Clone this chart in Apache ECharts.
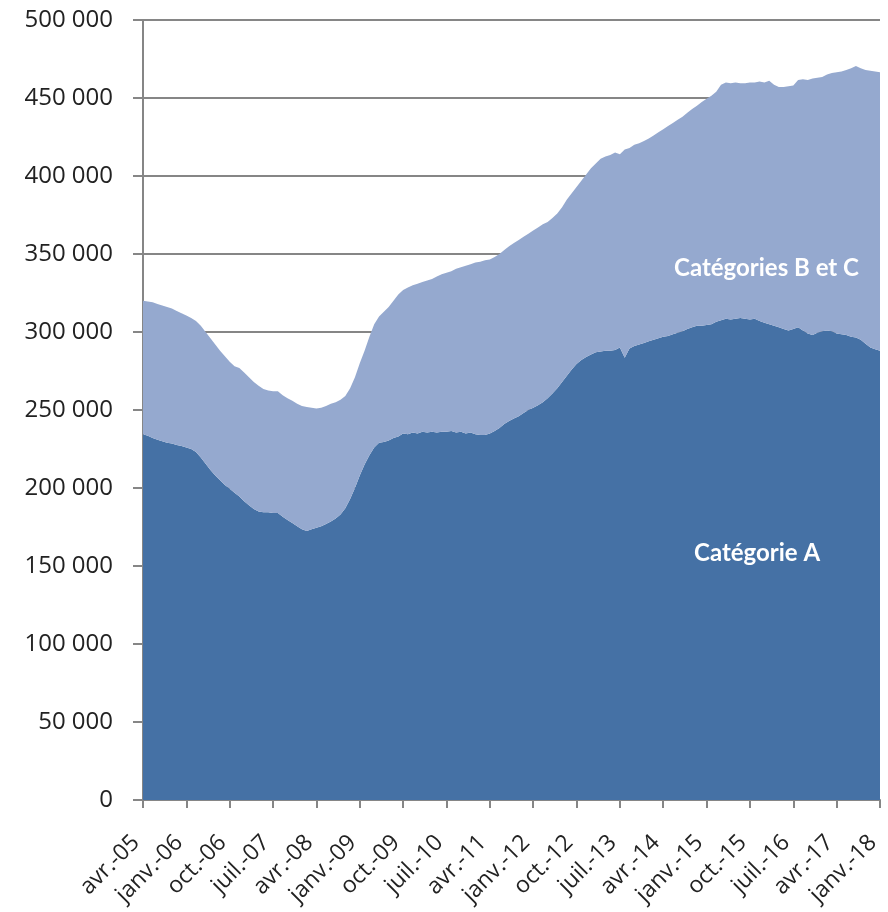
<!DOCTYPE html>
<html>
<head>
<meta charset="utf-8">
<script src="https://cdn.jsdelivr.net/npm/echarts@6/dist/echarts.min.js"></script>
<style>html,body{margin:0;padding:0;background:#fff}#c{width:888px;height:912px}</style>
</head>
<body>
<div id="c"></div>
<script>
// Month abbreviations (French) used to build category tick labels
const monthNames = ['janv.','févr.','mars','avr.','mai','juin','juil.','août','sept.','oct.','nov.','déc.'];
const startYear = 2005, startMonth = 3; // avr.-05
const nMonths = 154; // avr.-05 .. janv.-18

// Total (Catégories A + B + C), thousands
const totalK = [
320,319.5,319,318,317,316,315,313.5,312,310.5,
309,307,304,300,296,292,288,284.5,281,278,
277,274,271,268,265.5,263.5,262.5,262,262,259.5,
257.5,256,254,252.5,252,251.5,251,251.5,252.5,254,
255,256.5,259,264,271,280,288,297,305,310,
313,316,320,324,327,328.5,330,331,332,333,
334,335.5,337,338,339,340.5,341.5,342.5,343.5,344.5,
345,346,346.5,348,350,352.5,355,357,359,361,
363,365,367,369,370.5,373,376,380,385,389,
393,397,401,405,408,411,412.5,413.5,415,414,
417,418,420,421,422.5,424,426,428,430,432,
434,436,438,440.5,443,445,447.5,449.5,451.5,454,
458.5,460,459.5,460,459.5,459.5,460,460,460.5,460,
461,458.5,457,457,457.5,458,461.5,462,461.5,462.5,
463,463.5,465,466,466.5,467,468,469,470.5,469,
468,467.5,467,466.5
];

// Catégorie A, thousands
const catAK = [
234.5,233.5,232,231,230,229,228.5,227.5,227,226,
225,223,219.5,215.5,211.5,208,205,202,199.5,197,
194.5,191.5,189,186.5,185,184.5,184.5,184,184,181.5,
179.5,177.5,175.5,173.5,172.5,173.5,174.5,175.5,177,178.5,
180.5,183,187,193,200,208,215,221,226,229,
229.5,230.5,232,233,235,234.5,235.5,235,236,235.5,
236,235.5,236,236,236.5,235.5,236,235,235.5,234.5,
234,234,235,236.5,238.5,241,243,244.5,246,248,
250,251.5,253,255,257.5,260.5,264,268,272,276,
279.5,282,284,285.5,287,287.5,288,288,288.5,290,
283.5,289.5,291,292,293,294,295,296,297,297.5,
298.5,299.5,300.5,302,303,304,304,304.5,305,306.5,
307.5,308.5,308,308.5,309,308.5,308,308.5,307,306,
305,304,303,302,301,302,303,301,299,298,
299.5,300.5,301,300.5,299,298.5,298,297,296.5,295,
292.5,290,289,288
];

const yTicks = {min: 0, max: 500000, interval: 50000};

const categories = [];
for (let i = 0; i < nMonths; i++) {
  const m = (startMonth + i) % 12;
  const y = startYear + Math.floor((startMonth + i) / 12);
  categories.push(monthNames[m] + '-' + String(y % 100).padStart(2, '0'));
}
const catA = catAK.map(v => v * 1000);
const catBC = totalK.map((v, i) => (v - catAK[i]) * 1000);

const fmt = v => String(v).replace(/\B(?=(\d{3})+(?!\d))/g, ' ');
const grey = '#868686';
const labelFont = 'Open Sans';

const chart = echarts.init(document.getElementById('c'), null, {renderer: 'canvas'});
chart.setOption({
  animation: false,
  backgroundColor: '#fff',
  grid: {left: 143, right: 8, top: 20, bottom: 112, containLabel: false},
  xAxis: {
    type: 'category',
    boundaryGap: false,
    data: categories,
    axisLine: {lineStyle: {color: grey, width: 2}},
    axisTick: {show: true, interval: 8, length: 8, lineStyle: {color: grey, width: 2}},
    axisLabel: {interval: 8, rotate: 45, margin: 32, padding: [0, 10, 0, 0], fontSize: 23, color: '#222', fontFamily: labelFont},
    splitLine: {show: false}
  },
  yAxis: {
    type: 'value',
    min: yTicks.min, max: yTicks.max, interval: yTicks.interval,
    axisLine: {show: true, lineStyle: {color: grey, width: 2}},
    axisTick: {show: true, length: 10, lineStyle: {color: grey, width: 2}},
    axisLabel: {margin: 30, fontSize: 24, color: '#222', fontFamily: labelFont, formatter: fmt},
    splitLine: {show: true, lineStyle: {color: grey, width: 2}}
  },
  series: [
    {name: 'Catégorie A', type: 'line', stack: 'total', data: catA,
     symbol: 'none', lineStyle: {width: 0}, itemStyle: {color: '#4571A5'},
     areaStyle: {color: '#4571A5', opacity: 1}},
    {name: 'Catégories B et C', type: 'line', stack: 'total', data: catBC,
     symbol: 'none', lineStyle: {width: 0}, itemStyle: {color: '#95A9CF'},
     areaStyle: {color: '#95A9CF', opacity: 1}}
  ],
  graphic: [
    {type: 'text', left: 674, top: 256, z: 100,
     style: {text: 'Catégories B et C', fill: '#fff', font: 'bold 24px Lato'}},
    {type: 'text', left: 694, top: 541, z: 100,
     style: {text: 'Catégorie A', fill: '#fff', font: 'bold 24px Lato'}}
  ]
});
</script>
</body>
</html>
